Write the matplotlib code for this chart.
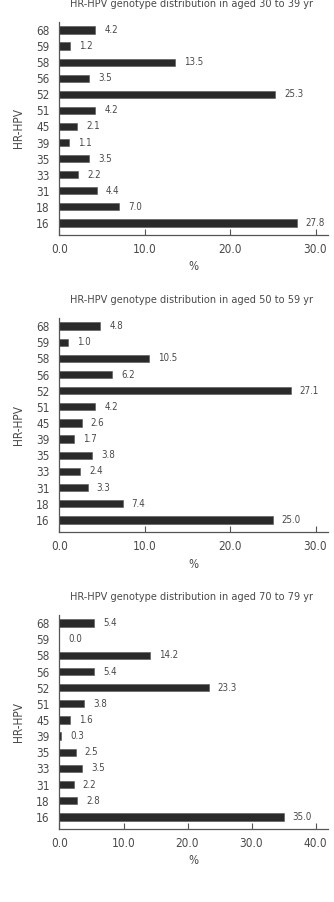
import matplotlib
matplotlib.use("Agg")
import matplotlib.pyplot as plt

genotypes = ["16", "18", "31", "33", "35", "39", "45", "51", "52", "56", "58", "59", "68"]
vals_30_39 = [27.8, 7.0, 4.4, 2.2, 3.5, 1.1, 2.1, 4.2, 25.3, 3.5, 13.5, 1.2, 4.2]
vals_50_59 = [25.0, 7.4, 3.3, 2.4, 3.8, 1.7, 2.6, 4.2, 27.1, 6.2, 10.5, 1.0, 4.8]
vals_70_79 = [35.0, 2.8, 2.2, 3.5, 2.5, 0.3, 1.6, 3.8, 23.3, 5.4, 14.2, 0.0, 5.4]
titles = ["HR-HPV genotype distribution in aged 30 to 39 yr",
          "HR-HPV genotype distribution in aged 50 to 59 yr",
          "HR-HPV genotype distribution in aged 70 to 79 yr"]
xticks_sets = [[0, 10, 20, 30], [0, 10, 20, 30], [0, 10, 20, 30, 40]]
xmax = [31.5, 31.5, 42.0]

plt.rcParams['font.family'] = ["DejaVu Sans"]
plt.rcParams['font.stretch'] = 'condensed'
TXT = "#4a4a4a"
BAR = "#2a2a2a"

fig = plt.figure(figsize=(3.34, 9.02), dpi=100)
W, H = 334, 902
left = 59.5 / W
width = (328.3 - 59.5) / W
tops = [22, 318, 615]
bottoms = [235, 532, 829]

for i, vals in enumerate([vals_30_39, vals_50_59, vals_70_79]):
    ax = fig.add_axes([left, 1 - bottoms[i] / H, width, (bottoms[i] - tops[i]) / H])
    y = list(range(len(genotypes)))
    ax.barh(y, vals, height=0.45, color=BAR, edgecolor="#555555", linewidth=0.4)
    for yy, v in zip(y, vals):
        ax.annotate(f"{v:.1f}", (v, yy), xytext=(6.5, 0), textcoords="offset points",
                    ha="left", va="center", fontsize=7, color=TXT)
    ax.set_ylim(-0.75, 12.5)
    ax.set_xlim(0, xmax[i])
    ax.set_yticks(y)
    ax.set_yticklabels(genotypes)
    ax.set_xticks(xticks_sets[i])
    ax.set_xticklabels([f"{t:.1f}" for t in xticks_sets[i]])
    ax.tick_params(axis='y', length=0, pad=7, labelsize=8.5, labelcolor=TXT)
    ax.tick_params(axis='x', direction='in', length=4, width=0.8, color="#555555",
                   pad=6, labelsize=8.5, labelcolor=TXT)
    for s in ["top", "right"]:
        ax.spines[s].set_visible(False)
    for s in ["left", "bottom"]:
        ax.spines[s].set_color("#555555")
        ax.spines[s].set_linewidth(0.9)
    ax.set_xlabel("%", fontsize=8.5, color=TXT, labelpad=3)
    ax.set_ylabel("HR-HPV", fontsize=8.5, color=TXT, labelpad=8)
    ax.set_title(titles[i], fontsize=7.8, color=TXT, pad=11, x=0.49)

fig.savefig("out.png", dpi=100)
